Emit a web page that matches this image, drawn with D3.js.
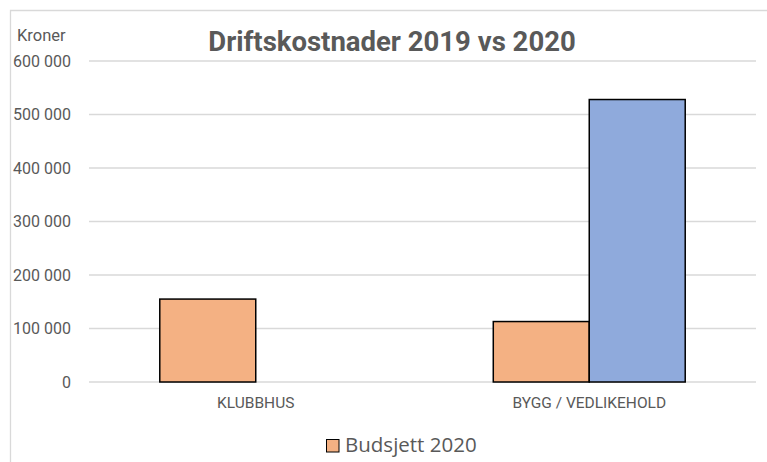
<!DOCTYPE html>
<html>
<head>
<meta charset="utf-8">
<title>Driftskostnader 2019 vs 2020</title>
<script src="https://d3js.org/d3.v7.min.js"></script>
<style>
  body { margin: 0; background: #fff; }
  .axis text { font-family: Roboto, sans-serif; font-size: 16px; fill: #595959; }
  .grid line { stroke: #d9d9d9; stroke-width: 1.3; }
</style>
</head>
<body>
<svg width="767" height="462"></svg>
<script>
// data
var categories = ["KLUBBHUS", "BYGG / VEDLIKEHOLD"];
var seriesNames = ["Budsjett 2020", "Regnskap 2019"];
var budsjett2020 = [155000, 113000];
var regnskap2019 = [0, 528000];
var yTicks = [0, 100000, 200000, 300000, 400000, 500000, 600000];
var colors = ["#F4B183", "#8FAADC"];

var svg = d3.select("svg");
var plotLeft = 89, plotRight = 756, plotTop = 61, plotBottom = 382;

// chart border (cut off at right/bottom like the original)
svg.append("path")
   .attr("d", "M10.5,470 V10.5 H780")
   .attr("fill", "none").attr("stroke", "#d9d9d9").attr("stroke-width", 1.3);

var ys = d3.scaleLinear().domain([0, 600000]).range([plotBottom, plotTop]);
var xs = d3.scaleBand().domain(categories).range([plotLeft, plotRight]).paddingInner(0).paddingOuter(0);
// two bars per group, gap ~147% of bar width
var inner = d3.scaleBand().domain(seriesNames).range([0, xs.bandwidth()]).paddingOuter(0.7375).paddingInner(0);

var fmt = function(d) { return d3.format(",")(d).replace(/,/g, " "); };

// grid lines
svg.append("g").attr("class", "grid")
   .selectAll("line").data(yTicks).enter().append("line")
   .attr("x1", plotLeft).attr("x2", plotRight)
   .attr("y1", function(d){ return ys(d); }).attr("y2", function(d){ return ys(d); });

// y axis labels
var yAxis = d3.axisLeft(ys).tickValues(yTicks).tickSize(0).tickPadding(0).tickFormat(fmt);
svg.append("g").attr("class", "axis").attr("transform", "translate(71,0)").call(yAxis)
   .call(function(g){ g.select(".domain").remove(); });

// x axis labels
var xAxis = d3.axisBottom(xs).tickSize(0).tickPadding(15);
svg.append("g").attr("class", "axis").attr("transform", "translate(0," + plotBottom + ")").call(xAxis)
   .call(function(g){ g.select(".domain").remove(); })
   .selectAll("text").style("font-size", "15.5px");

// bars
var rows = categories.map(function(c, i) {
  return { cat: c, vals: [budsjett2020[i], regnskap2019[i]] };
});
svg.append("g").selectAll("g").data(rows).enter().append("g")
   .attr("transform", function(d){ return "translate(" + xs(d.cat) + ",0)"; })
   .selectAll("rect")
   .data(function(d){ return d.vals.map(function(v, j){ return { s: seriesNames[j], v: v, j: j }; }).filter(function(e){ return e.v > 0; }); })
   .enter().append("rect")
   .attr("x", function(d){ return inner(d.s); })
   .attr("width", inner.bandwidth())
   .attr("y", function(d){ return ys(d.v); })
   .attr("height", function(d){ return plotBottom - ys(d.v); })
   .attr("fill", function(d){ return colors[d.j]; })
   .attr("stroke", "#000").attr("stroke-width", 1.5);

// title
svg.append("text").attr("x", 392).attr("y", 51).attr("text-anchor", "middle")
   .style("font-family", "Roboto, sans-serif").style("font-weight", "bold").style("font-size", "27.5px")
   .attr("fill", "#595959").text("Driftskostnader 2019 vs 2020");

// y axis title
svg.append("text").attr("x", 17).attr("y", 41)
   .style("font-family", "Roboto, sans-serif").style("font-size", "16.5px")
   .attr("fill", "#595959").text("Kroner");

// legend (only first series visible)
svg.append("rect").attr("x", 326.5).attr("y", 439.5).attr("width", 12.5).attr("height", 12.5)
   .attr("fill", colors[0]).attr("stroke", "#000").attr("stroke-width", 1);
svg.append("text").attr("x", 345).attr("y", 452)
   .style("font-family", "'Open Sans', sans-serif").style("font-size", "20.5px")
   .attr("fill", "#595959").text(seriesNames[0]);
</script>
</body>
</html>
